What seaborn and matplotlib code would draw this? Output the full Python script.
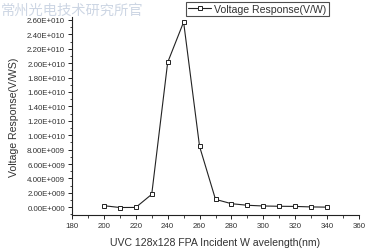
import math
import matplotlib
matplotlib.use("Agg")
import matplotlib.pyplot as plt
import seaborn as sns
import pandas as pd
from matplotlib.ticker import MultipleLocator, FuncFormatter

wavelength = [200, 210, 220, 230, 240, 250, 260, 270, 280, 290, 300, 310, 320, 330, 340]
response = [0.22e9, -0.03e9, -0.02e9, 1.8e9, 20.1e9, 25.7e9, 8.45e9, 1.1e9, 0.5e9,
            0.28e9, 0.18e9, 0.14e9, 0.12e9, 0.05e9, 0.02e9]
series_name = "Voltage Response(V/W)"

df = pd.DataFrame({"wavelength": wavelength, "response": response, "series": series_name})

sns.set_theme(style="white")
plt.rcParams['font.family'] = ['Liberation Sans', 'Noto Sans CJK SC', 'DejaVu Sans']

fig = plt.figure(figsize=(3.88, 2.51), dpi=100)
ax = fig.add_axes([72/388, 1-216/251, (359-72)/388, (216-18)/251])

sns.lineplot(data=df, x="wavelength", y="response", hue="series", palette=["#222222"],
             marker="s", markersize=3, markerfacecolor="white", markeredgecolor="#222222",
             markeredgewidth=0.7, linewidth=0.8, ax=ax)

ax.set_xlim(180, 360)
ax.set_ylim(-1.07e9, 26.4e9)
ax.xaxis.set_major_locator(MultipleLocator(20))
ax.xaxis.set_minor_locator(MultipleLocator(10))
ax.yaxis.set_major_locator(MultipleLocator(2e9))
ax.yaxis.set_minor_locator(MultipleLocator(1e9))

def fmt(v, pos):
    if abs(v) < 1:
        return "0.00E+000"
    e = int(math.floor(math.log10(abs(v))))
    m = v / 10**e
    return f"{m:.2f}E+{e:03d}"
ax.yaxis.set_major_formatter(FuncFormatter(fmt))

for s in ["top", "right"]:
    ax.spines[s].set_visible(False)
for s in ["left", "bottom"]:
    ax.spines[s].set_color("#222222")
    ax.spines[s].set_linewidth(0.8)

ax.tick_params(which="major", direction="out", length=3, width=0.7, colors="#222222",
               labelsize=5.7, labelcolor="#333333", bottom=True, left=True, pad=2)
ax.tick_params(which="minor", direction="out", length=1.8, width=0.6, colors="#222222",
               bottom=True, left=True)

ax.set_xlabel("UVC 128x128 FPA Incident W avelength(nm)", fontsize=7.6, color="#333333", labelpad=6)
ax.set_ylabel("Voltage Response(V/WS)", fontsize=7.6, color="#333333", labelpad=6)

leg = ax.legend(loc="upper left", bbox_to_anchor=((186-72)/287, (18-3)/198+1.0),
                fontsize=7.6, frameon=True, fancybox=False, handlelength=2.2,
                borderpad=0.2, handletextpad=0.3, borderaxespad=0)
leg.get_frame().set_edgecolor("#222222")
leg.get_frame().set_linewidth(0.8)
for t in leg.get_texts():
    t.set_color("#333333")

fig.text(0.002, 1-11/251, "常州光电技术研究所官", fontsize=10.3, color="#cdd6e4",
         va="center", ha="left", family=['Noto Sans CJK SC', 'DejaVu Sans'])

fig.savefig("out.png", dpi=100, facecolor="white")
